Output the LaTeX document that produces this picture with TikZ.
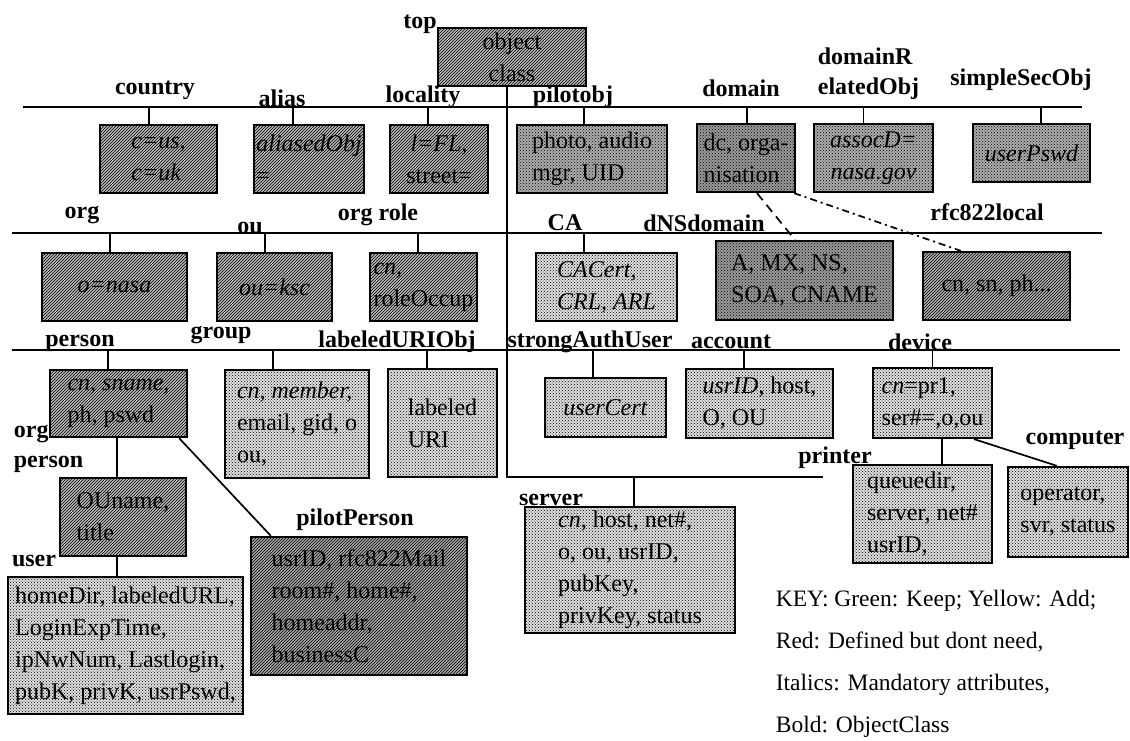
\documentclass[tikz,border=0pt]{standalone}
\usepackage{fontspec}
\setmainfont{Liberation Serif}
\usetikzlibrary{patterns}

\begin{document}
\begin{tikzpicture}[x=1pt, y=-1pt, line width=1.7pt,
        every node/.style={inner sep=2pt},
        cls/.style={font=\fontsize{24}{30}\selectfont\bfseries},
        attr/.style={draw, line width=2.3pt, align=left, font=\fontsize{24}{32}\selectfont},
        hatchbox/.style={attr, fill=gray!55, postaction={pattern=north east lines}},
        darkbox/.style={attr, fill=gray!80, postaction={pattern=crosshatch dots}},
        midbox/.style={attr, fill=gray!64, postaction={pattern=crosshatch dots}},
        lightbox/.style={attr, fill=gray!26, postaction={pattern=crosshatch dots}}]
        \useasboundingbox (0,0) rectangle (1130,740);

        % the three buses
        \coordinate (bus1w) at (23,107);  \coordinate (bus1e) at (1082,107);
        \coordinate (bus2w) at (12,233);  \coordinate (bus2e) at (1102,233);
        \coordinate (bus3w) at (12,350);  \coordinate (bus3e) at (1120,350);
        \draw (bus1w) -- (bus1e);
        \draw (bus2w) -- (bus2e);
        \draw (bus3w) -- (bus3e);

        \node (top) at (512,57) [hatchbox, minimum width=148, minimum height=58, align=center] {object\\class};

        % first row
        \node (country) at (158.5,159) [hatchbox, minimum width=117, minimum height=68] {\textit{c=us,}\\\textit{c=uk}};
        \node (alias) at (309,159) [hatchbox, minimum width=108, minimum height=68] {\textit{aliasedObj}\\=};
        \node (locality) at (439,159) [hatchbox, minimum width=98, minimum height=68, align=center] {\textit{l=FL,}\\street=};
        \node (pilotobj) at (592,159) [midbox, minimum width=150, minimum height=68] {photo, audio\\mgr, UID};
        \node (domain) at (746,158) [darkbox, minimum width=98, minimum height=68] {dc, orga-\\nisation};
        \node (domrel) at (873.5,158) [midbox, minimum width=119, minimum height=68, align=center] {\textit{assocD=}\\\textit{nasa.gov}};
        \node (simplesec) at (1031.5,153) [midbox, minimum width=117, minimum height=58] {\textit{userPswd}};

        % second row
        \node (org) at (114.5,287) [hatchbox, minimum width=145, minimum height=68] {\textit{o=nasa}};
        \node (ou) at (274.5,287) [hatchbox, minimum width=115, minimum height=68] {\textit{ou=ksc}};
        \node (orgrole) at (423.5,287) [hatchbox, minimum width=107, minimum height=68] {\textit{cn,}\\roleOccup};
        \node (ca) at (606.5,287) [lightbox, minimum width=141, minimum height=68] {\textit{CACert,}\\\textit{CRL, ARL}};
        \node (dns) at (804.5,280.5) [darkbox, minimum width=177, minimum height=79] {A, MX, NS,\\SOA, CNAME};
        \node (rfc) at (996.5,286) [hatchbox, fill=gray!62, minimum width=147, minimum height=68] {cn, sn, ph...};

        % third row
        \node (person) at (118.5,403.5) [hatchbox, minimum width=137, minimum height=67] {\textit{cn, sname,}\\ph, pswd};
        \node (group) at (297,424) [lightbox, minimum width=144, minimum height=108] {\textit{cn, member,}\\email, gid, o\\ou,};
        \node (labeled) at (442.5,423) [lightbox, minimum width=109, minimum height=108] {labeled\\URI};
        \node (usercert) at (605.5,407.5) [lightbox, minimum width=121, minimum height=59] {\textit{userCert}};
        \node (account) at (759.5,403.5) [lightbox, minimum width=147, minimum height=69] {\textit{usrID}, host,\\O, OU};
        \node (device) at (932.5,403) [lightbox, minimum width=119, minimum height=70] {\textit{cn}=pr1,\\ser\#=,o,ou};

        % below
        \node (orgperson) at (123,517) [hatchbox, minimum width=126, minimum height=78] {OUname,\\title};
        \node (user) at (125.5,645.5) [lightbox, minimum width=235, minimum height=137] {homeDir, labeledURL,\\LoginExpTime,\\ipNwNum, Lastlogin,\\pubK, privK, usrPswd,};
        \node (pilotperson) at (359,606) [hatchbox, fill=gray!70, minimum width=216, minimum height=138] {usrID, rfc822Mail\\room\#, home\#,\\homeaddr,\\businessC};
        \node (server) at (630,570) [lightbox, minimum width=210, minimum height=126] {\textit{cn}, host, net\#,\\o, ou, usrID,\\pubKey,\\privKey, status};
        \node (printer) at (922.5,514) [lightbox, minimum width=139, minimum height=98] {queuedir,\\server, net\#\\usrID,};
        \node (computer) at (1068,512) [lightbox, minimum width=120, minimum height=90] {operator,\\svr, status};

        % class names
        \node (ltop) at (420,24) [cls] {top};
        \node (lcountry) at (155,90) [cls] {country};
        \node (lalias) at (282,98) [cls] {alias};
        \node (llocality) at (423,97) [cls] {locality};
        \node (lpilotobj) at (573,97) [cls] {pilotobj};
        \node (ldomain) at (741,88) [cls] {domain};
        \node (ldomrel) at (815,74) [cls, anchor=west, align=left] {domainR\\elatedObj};
        \node (lsimplesec) at (1021,80) [cls] {simpleSecObj};
        \node (lorg) at (82,215) [cls] {org};
        \node (lou) at (250,228) [cls] {ou};
        \node (lorgrole) at (378,215) [cls] {org role};
        \node (lca) at (565,223) [cls] {CA};
        \node (ldns) at (704,223) [cls] {dNSdomain};
        \node (lrfc) at (987,212) [cls] {rfc822local};
        \node (lperson) at (80,343) [cls] {person};
        \node (lgroup) at (221,335) [cls] {group};
        \node (llabeled) at (397,342) [cls] {labeledURIObj};
        \node (lusercert) at (590,342) [cls] {strongAuthUser};
        \node (laccount) at (731,342) [cls] {account};
        \node (ldevice) at (920,342) [cls] {device};
        \node (lorgperson) at (11,449) [cls, anchor=west, align=left] {org\\person};
        \node (luser) at (34,561) [cls] {user};
        \node (lpilotperson) at (355,520) [cls] {pilotPerson};
        \node (lserver) at (551,500) [cls] {server};
        \node (lprinter) at (835,458) [cls] {printer};
        \node (lcomputer) at (1075,440) [cls] {computer};

        \node (key) at (773,664) [anchor=west, align=left, font=\fontsize{23.5}{42}\selectfont] {KEY: Green: Keep; Yellow: Add;\\Red: Defined but dont need,\\Italics: Mandatory attributes,\\Bold: ObjectClass};

        % drops from the buses
        \foreach \b/\s in {country/-9.5, alias/-16, locality/-11, pilotobj/-8, domain/1, domrel/-10, simplesec/9.5}
            \draw ([xshift=\s]\b.north) -- ([xshift=\s]\b.north |- bus1w);
        \foreach \b/\s in {org/-4.5, ou/-9.5, orgrole/-5.5, ca/-22.5}
            \draw ([xshift=\s]\b.north) -- ([xshift=\s]\b.north |- bus2w);
        \foreach \b/\s in {person/-10.5, group/-24, labeled/-15.5, usercert/-12.5, account/-15.5, device/0}
            \draw ([xshift=\s]\b.north) -- ([xshift=\s]\b.north |- bus3w);

        % trunk from top
        \coordinate (knee) at (507,477);
        \coordinate (trunkend) at (823,477);
        \draw ([xshift=-5]top.south) -- (knee) -- (trunkend);
        \draw ([xshift=4]server.north) -- ([xshift=4]server.north |- knee);

        \draw ([xshift=-6]orgperson.north) -- ([xshift=-6]orgperson.north |- person.south);
        \draw ([xshift=-8.5]user.north) -- ([xshift=-8.5]user.north |- orgperson.south);
        \draw ([xshift=-9]person.south east) -- ([xshift=21]pilotperson.north west);
        \draw ([xshift=19.5]printer.north) -- ([xshift=19.5]printer.north |- device.south);
        \draw ([xshift=-19]device.south east) -- ([xshift=50]computer.north west);

        \draw[dash pattern=on 9pt off 6pt] ([xshift=11]domain.south) -- ([xshift=-9.5]dns.north);
        \draw[dash pattern=on 7pt off 4pt on 2pt off 4pt] ([xshift=-2]domain.south east) -- ([xshift=39]rfc.north west);
        \end{tikzpicture}
\end{document}
